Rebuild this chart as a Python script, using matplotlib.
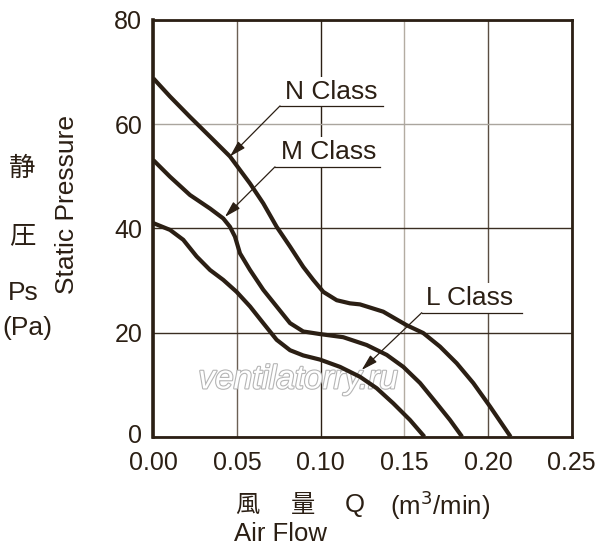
import matplotlib
matplotlib.use('Agg')
import matplotlib.pyplot as plt
import matplotlib.patheffects as PathEffects
import matplotlib.transforms as mtransforms

INK = '#2b1f14'

# air flow (m3/min) and static pressure (Pa)
n_flow = [0.0, 0.0100, 0.0219, 0.0339, 0.0458, 0.0518, 0.0578, 0.0657, 0.0737,
          0.0817, 0.0896, 0.0956, 0.1016, 0.1096, 0.1175, 0.1235, 0.1374,
          0.1514, 0.1613, 0.1713, 0.1813, 0.1912, 0.2012, 0.2135]
n_press = [68.8, 65.3, 61.4, 57.6, 53.8, 51.2, 48.6, 44.8, 40.3,
           36.5, 32.6, 30.1, 27.8, 26.2, 25.6, 25.4, 24.0,
           21.4, 19.9, 17.3, 14.1, 10.3, 5.8, 0.0]

m_flow = [0.0, 0.0100, 0.0219, 0.0339, 0.0418, 0.0458, 0.0488, 0.0518, 0.0578,
          0.0657, 0.0737, 0.0817, 0.0896, 0.0996, 0.1135, 0.1275, 0.1395,
          0.1494, 0.1594, 0.1693, 0.1773, 0.1845]
m_press = [53.1, 49.9, 46.4, 43.8, 41.9, 40.3, 38.4, 35.2, 32.0,
           28.2, 25.0, 21.8, 20.2, 19.7, 19.1, 17.6, 15.7,
           13.4, 10.3, 6.4, 3.2, 0.0]

l_flow = [0.0, 0.0100, 0.0179, 0.0259, 0.0339, 0.0418, 0.0498, 0.0578, 0.0657,
          0.0737, 0.0817, 0.0896, 0.0996, 0.1116, 0.1235, 0.1335, 0.1434,
          0.1534, 0.1620]
l_press = [41.0, 39.7, 37.8, 34.6, 32.0, 30.1, 27.8, 25.0, 21.8,
           18.6, 16.6, 15.6, 14.8, 13.4, 11.5, 9.3, 6.4,
           3.2, 0.0]

x_ticks = [0.0, 0.05, 0.10, 0.15, 0.20, 0.25]
y_ticks = [0, 20, 40, 60, 80]
x_grid_colors = ['#2b1f14', '#6b6054', '#2b1f14', '#b3aca2', '#5a4e42', '#2b1f14']
y_grid_colors = ['#2b1f14', '#3a2e22', '#3a2e22', '#aaa59e', '#2b1f14']

# label name, text pos, underline start/end x + y, arrow tip
labels = ['N Class', 'M Class', 'L Class']
label_xy = [(0.1066, 66.2), (0.1046, 54.7), (0.1892, 26.6)]
underline = [(0.0757, 0.1375, 63.5), (0.0727, 0.1355, 51.8), (0.1604, 0.2201, 23.8)]
arrow_tip = [(0.0458, 53.8), (0.0428, 42.2), (0.1245, 12.8)]

plt.rcParams['font.family'] = ['Liberation Sans', 'Noto Sans CJK JP']

fig = plt.figure(figsize=(6.0, 5.58), dpi=100)
ax = fig.add_axes([0.2555, 0.2174, 0.6973, 0.7468])

for fx, fy in [(n_flow, n_press), (m_flow, m_press), (l_flow, l_press)]:
    ax.plot(fx, fy, color=INK, lw=3.0, solid_joinstyle='round',
            solid_capstyle='butt', zorder=4)

ax.set_xlim(0, 0.25)
ax.set_ylim(0, 80)
ax.set_xticks(x_ticks)
ax.set_yticks(y_ticks)
ax.set_xticklabels(['%.2f' % v for v in x_ticks])
ax.tick_params(length=0, labelsize=18, colors=INK)
ax.tick_params(axis='y', pad=8)
ax.tick_params(axis='x', pad=10)
for s in ax.spines.values():
    s.set_linewidth(2.0)
    s.set_color(INK)
    s.set_zorder(5)
ax.spines['left'].set_linewidth(2.6)

# the "0" on the y axis sits a touch above the axis line, like the original
lift = mtransforms.ScaledTranslation(0, 2 / 72, fig.dpi_scale_trans)
ylab0 = ax.get_yticklabels()[0]
ylab0.set_transform(ylab0.get_transform() + lift)

ax.grid(True, lw=1.0)
for gl, c in zip(ax.xaxis.get_gridlines(), x_grid_colors):
    gl.set_color(c)
for gl, c in zip(ax.yaxis.get_gridlines(), y_grid_colors):
    gl.set_color(c)
ax.set_axisbelow(True)

for name, (tx, ty), (u0, u1, uy), tip in zip(labels, label_xy, underline, arrow_tip):
    ax.text(tx, ty, name, fontsize=19, color=INK, ha='center', va='center', zorder=3,
            bbox=dict(facecolor='white', edgecolor='none', pad=2))
    ax.plot([u0, u1], [uy, uy], color=INK, lw=0.9, zorder=3)
    ax.annotate('', xy=tip, xytext=(u0, uy), zorder=3,
                arrowprops=dict(arrowstyle='-|>,head_length=0.7,head_width=0.2',
                                color=INK, lw=0.9, mutation_scale=14,
                                shrinkA=0, shrinkB=0))

wm = ax.text(0.0867, 10.9, 'ventilatorry.ru', fontsize=24, style='italic',
             color='white', ha='center', va='center', zorder=2)
wm.set_path_effects([PathEffects.withStroke(linewidth=1.6, foreground='#b5b5b5')])

# y axis titles
fig.text(22 / 600, 1 - 168 / 558, '静', fontsize=19, color=INK, ha='center', va='center',
         family='Noto Sans CJK JP')
fig.text(22 / 600, 1 - 236 / 558, '圧', fontsize=19, color=INK, ha='center', va='center',
         family='Noto Sans CJK JP')
fig.text(23 / 600, 1 - 293 / 558, 'Ps', fontsize=19, color=INK, ha='center', va='center')
fig.text(27 / 600, 1 - 328 / 558, '(Pa)', fontsize=19, color=INK, ha='center', va='center')
fig.text(67 / 600, 1 - 205 / 558, 'Static Pressure', fontsize=19, color=INK,
         rotation=90, ha='center', va='center')

# x axis titles
fig.text(247 / 600, 1 - 505 / 558, '風', fontsize=17.5, color=INK, ha='center', va='center',
         family='Noto Sans CJK JP')
fig.text(303 / 600, 1 - 505 / 558, '量', fontsize=17.5, color=INK, ha='center', va='center',
         family='Noto Sans CJK JP')
fig.text(355 / 600, 1 - 505 / 558, 'Q', fontsize=18.5, color=INK, ha='center', va='center')
fig.text(390 / 600, 1 - 505 / 558, '(m$^3$/min)', fontsize=18.5, color=INK, ha='left', va='center')
fig.text(234 / 600, 1 - 534 / 558, 'Air Flow', fontsize=18.5, color=INK, ha='left', va='center')

fig.savefig('out.png', dpi=100, facecolor='white')
